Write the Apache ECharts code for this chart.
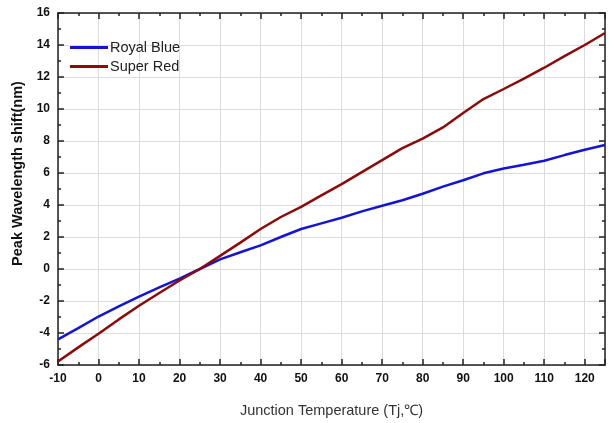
<!DOCTYPE html>
<html>
<head>
<meta charset="utf-8">
<script src="https://cdn.jsdelivr.net/npm/echarts@6/dist/echarts.min.js"></script>
<style>
  html, body { margin: 0; padding: 0; background: #fff; }
  #chart { width: 614px; height: 423px; }
</style>
</head>
<body>
<div id="chart"></div>
<script>
// junction temperature (°C)
const temps = [-10, -5, 0, 5, 10, 15, 20, 25, 30, 35, 40, 45, 50, 55, 60, 65, 70, 75, 80, 85, 90, 95, 100, 105, 110, 115, 120, 125];
// peak wavelength shift (nm)
const royalBlue = [-4.4, -3.7, -2.97, -2.33, -1.72, -1.15, -0.6, 0, 0.6, 1.05, 1.48, 2.0, 2.5, 2.85, 3.2, 3.6, 3.95, 4.3, 4.7, 5.15, 5.55, 5.98, 6.28, 6.52, 6.77, 7.12, 7.45, 7.75];
const superRed = [-5.78, -4.9, -4.05, -3.15, -2.3, -1.5, -0.72, 0, 0.82, 1.65, 2.5, 3.25, 3.88, 4.6, 5.3, 6.05, 6.8, 7.55, 8.15, 8.85, 9.75, 10.62, 11.25, 11.9, 12.58, 13.3, 14.0, 14.75];
const seriesNames = ['Royal Blue', 'Super Red'];

const chart = echarts.init(document.getElementById('chart'));

const font = 'Arial, "Liberation Sans", sans-serif';
const tickLabel = { color: '#111', fontFamily: font, fontSize: 12, fontWeight: 'bold' };
const axisLine = { show: true, onZero: false, lineStyle: { color: '#222', width: 1.5 } };
const axisTick = { show: true, inside: true, length: 6, lineStyle: { color: '#222', width: 1.5 } };
const minorTick = { show: true, splitNumber: 2, length: 3, lineStyle: { color: '#222', width: 1.5 } };

const option = {
  animation: false,
  grid: { left: 58, right: 9, top: 13, bottom: 52 },
  legend: {
    data: seriesNames,
    orient: 'vertical',
    left: 65,
    top: 35,
    icon: 'rect',
    itemWidth: 38,
    itemHeight: 3,
    itemGap: 4,
    textStyle: { color: '#222', fontSize: 14.5, fontFamily: font, padding: [0, 0, 0, -3] }
  },
  xAxis: [
    {
      type: 'value',
      min: -10,
      max: 125,
      interval: 10,
      name: 'Junction Temperature (Tj,℃)',
      nameLocation: 'middle',
      nameGap: 38,
      nameTextStyle: { color: '#333', fontSize: 14.5, fontFamily: font },
      axisLine: axisLine,
      axisTick: axisTick,
      minorTick: minorTick,
      axisLabel: Object.assign({ margin: 8, showMaxLabel: false, formatter: v => (v > 120 ? '' : v) }, tickLabel),
      splitLine: { show: true, lineStyle: { color: '#dcdcdc', width: 1 } }
    },
    {
      type: 'value',
      position: 'top',
      min: -10,
      max: 125,
      interval: 10,
      axisLine: axisLine,
      axisTick: axisTick,
      minorTick: minorTick,
      axisLabel: { show: false },
      splitLine: { show: false }
    }
  ],
  yAxis: [
    {
      type: 'value',
      min: -6,
      max: 16,
      interval: 2,
      name: 'Peak Wavelength shift(nm)',
      nameLocation: 'middle',
      nameGap: 32,
      nameTextStyle: { color: '#111', fontSize: 14.5, fontWeight: 'bold', fontFamily: font, padding: [0, 0, 0, 31] },
      axisLine: axisLine,
      axisTick: axisTick,
      minorTick: minorTick,
      axisLabel: Object.assign({ margin: 8 }, tickLabel),
      splitLine: { show: true, lineStyle: { color: '#dcdcdc', width: 1 } }
    },
    {
      type: 'value',
      position: 'right',
      min: -6,
      max: 16,
      interval: 2,
      axisLine: axisLine,
      axisTick: axisTick,
      minorTick: minorTick,
      axisLabel: { show: false },
      splitLine: { show: false }
    }
  ],
  series: [
    {
      name: seriesNames[0],
      type: 'line',
      symbol: 'none',
      color: '#1414d8',
      lineStyle: { width: 2.5 },
      data: temps.map((t, i) => [t, royalBlue[i]])
    },
    {
      name: seriesNames[1],
      type: 'line',
      symbol: 'none',
      color: '#8c0a0a',
      lineStyle: { width: 2.5 },
      data: temps.map((t, i) => [t, superRed[i]])
    }
  ]
};

chart.setOption(option);
</script>
</body>
</html>
